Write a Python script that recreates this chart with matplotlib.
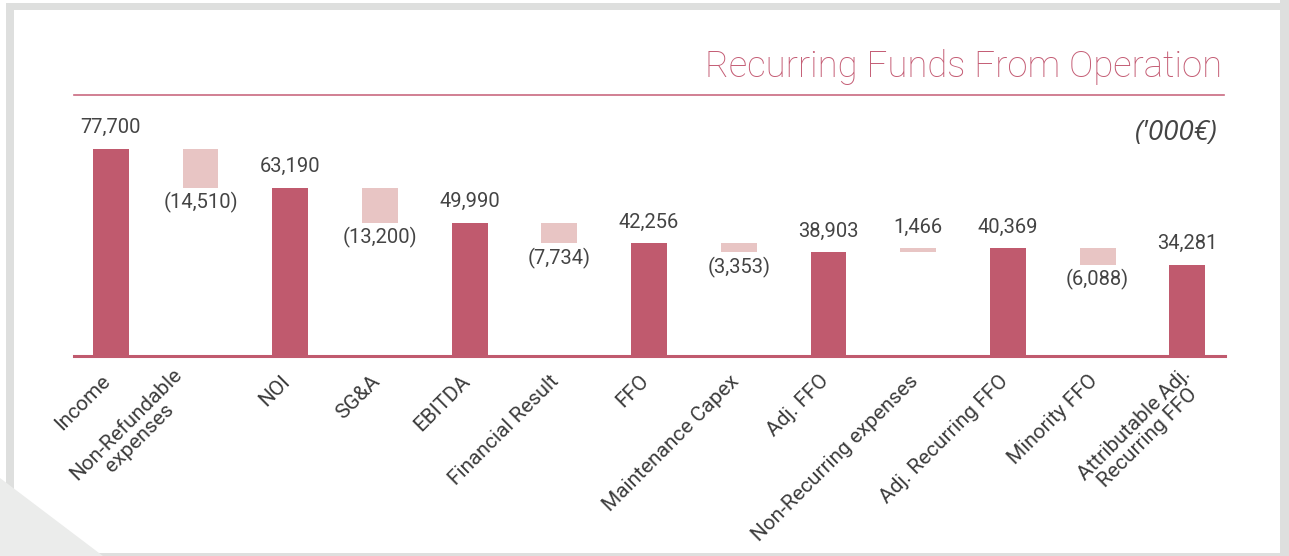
import matplotlib
matplotlib.use("Agg")
import matplotlib.pyplot as plt
from matplotlib.patches import Rectangle, Polygon
from matplotlib.lines import Line2D
from matplotlib.transforms import ScaledTranslation

categories = ['Income', 'Non-Refundable\nexpenses', 'NOI', 'SG&A', 'EBITDA',
              'Financial Result', 'FFO', 'Maintenance Capex', 'Adj. FFO',
              'Non-Recurring expenses', 'Adj. Recurring FFO', 'Minority FFO',
              'Attributable Adj.\nRecurring FFO']
values = [77700, -14510, 63190, -13200, 49990, -7734, 42256, -3353, 38903,
          1466, 40369, -6088, 34281]
is_total = [True, False, True, False, True, False, True, False, True,
            False, True, False, True]
value_labels = ['77,700', '(14,510)', '63,190', '(13,200)', '49,990', '(7,734)',
                '42,256', '(3,353)', '38,903', '1,466', '40,369', '(6,088)', '34,281']

DARK = '#c05a6e'
LIGHT = '#e8c5c4'
TXT = '#444444'

W, H = 1289, 556
fig = plt.figure(figsize=(W / 100, H / 100), dpi=100)
fig.patch.set_facecolor('white')

def px(x, y):
    return x / W, 1 - y / H

# frame
gray = '#dedfde'
fig.patches.append(Rectangle(px(6, 553), 1280 / W - 6 / W, (553 - 3) / H,
                             transform=fig.transFigure, facecolor=gray,
                             edgecolor='none', zorder=-9))
fig.patches.append(Rectangle(px(14, 553), (1280 - 14) / W, (553 - 10) / H,
                             transform=fig.transFigure, facecolor='white',
                             edgecolor='none', zorder=-8))
fig.patches.append(Rectangle(px(1280, 556), 9 / W, 1, transform=fig.transFigure,
                             facecolor=gray, edgecolor='none', zorder=-8))
fig.patches.append(Rectangle((0, 0), 1, 3 / H, transform=fig.transFigure,
                             facecolor=gray, edgecolor='none', zorder=-8))
fig.patches.append(Polygon([px(0, 478), px(103, 556), px(0, 556)], closed=True,
                           transform=fig.transFigure, facecolor='#ebeceb',
                           edgecolor='none', zorder=-7))

ax = fig.add_axes([74 / W, (H - 356) / H, (1225 - 74) / W, (356 - 100) / H])
ax.set_facecolor('none')

# compute waterfall
bottoms, heights, colors = [], [], []
running = 0
for v, t in zip(values, is_total):
    if t:
        bottoms.append(0)
        heights.append(v)
        colors.append(DARK)
        running = v
    else:
        bottoms.append(running)
        heights.append(v)
        colors.append(LIGHT)
        running = running + v

x = list(range(len(categories)))
ax.bar(x, heights, bottom=bottoms, width=0.40, color=colors, zorder=2)

for i, (b, h, lab) in enumerate(zip(bottoms, heights, value_labels)):
    if h >= 0:
        ax.annotate(lab, (i, b + h), xytext=(0, 8.5), textcoords='offset points',
                    ha='center', va='bottom', fontsize=14.5, color=TXT,
                    family='Roboto', fontweight='normal')
    else:
        ax.annotate(lab, (i, b + h), xytext=(0, -3), textcoords='offset points',
                    ha='center', va='top', fontsize=14.5, color=TXT,
                    family='Roboto', fontweight='normal')

ax.set_xlim(-0.41, 12.42)
ax.set_ylim(0, 256 / (207 / 77700))
for s in ['top', 'left', 'right']:
    ax.spines[s].set_visible(False)
ax.spines['bottom'].set_color(DARK)
ax.spines['bottom'].set_linewidth(2.2)
ax.spines['bottom'].set_zorder(3)
ax.set_yticks([])
ax.set_xticks(x)
ax.set_xticklabels(categories, rotation=45, ha='right', va='center',
                   rotation_mode='anchor', fontsize=15, color='#3c3c3c',
                   family='Roboto', fontweight='normal', multialignment='center',
                   linespacing=1.05)
ax.tick_params(axis='x', length=0, pad=13)
# small per-label nudges (pixels)
nudges = {1: -12, 12: 10}
for i, lbl in enumerate(ax.get_xticklabels()):
    dx = -3 + nudges.get(i, 0)
    lbl.set_transform(lbl.get_transform() + ScaledTranslation(dx / 100, -4 / 100, fig.dpi_scale_trans))

# title line and title
fig.add_artist(Line2D([74 / W, 1224 / W], [1 - 95 / H, 1 - 95 / H],
                      transform=fig.transFigure, color='#c96a80', lw=1.2))
fig.text(1222 / W, 1 - 67 / H, 'Recurring Funds From Operation', ha='right',
         va='center', fontsize=26.3, color='#c45c74', family='Roboto',
         fontweight='light')
fig.text(1218 / W, 1 - 133 / H, "('000€)", ha='right', va='center',
         fontsize=20, color='#444444', family='Open Sans', style='italic',
         fontweight='normal')

fig.savefig('out.png', dpi=100)
